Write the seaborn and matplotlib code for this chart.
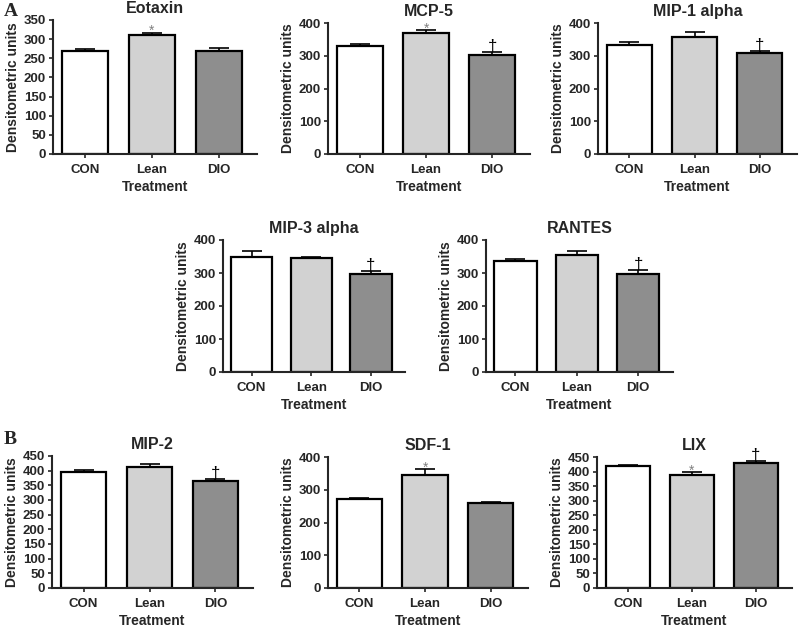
import pandas as pd
import seaborn as sns
import matplotlib
matplotlib.use('Agg')
from matplotlib import pyplot as plt

# categories and per-panel values (mean, upper SEM)
groups = ['CON', 'Lean', 'DIO']
panels = ['Eotaxin', 'MCP-5', 'MIP-1 alpha', 'MIP-3 alpha', 'RANTES', 'MIP-2', 'SDF-1', 'LIX']
means = {
    'Eotaxin': [268, 310, 270],
    'MCP-5': [330, 368, 302],
    'MIP-1 alpha': [334, 356, 308],
    'MIP-3 alpha': [350, 344, 298],
    'RANTES': [335, 355, 298],
    'MIP-2': [396, 414, 366],
    'SDF-1': [271, 345, 260],
    'LIX': [418, 387, 428],
}
sems = {
    'Eotaxin': [5, 7, 8],
    'MCP-5': [6, 10, 10],
    'MIP-1 alpha': [8, 17, 8],
    'MIP-3 alpha': [17, 4, 7],
    'RANTES': [7, 13, 10],
    'MIP-2': [6, 9, 7],
    'SDF-1': [5, 18, 2],
    'LIX': [5, 10, 7],
}
# significance marks above bars
marks = {
    'Eotaxin': ['', '*', ''],
    'MCP-5': ['', '*', '\u2020'],
    'MIP-1 alpha': ['', '', '\u2020'],
    'MIP-3 alpha': ['', '', '\u2020'],
    'RANTES': ['', '', '\u2020'],
    'MIP-2': ['', '', '\u2020'],
    'SDF-1': ['', '*', ''],
    'LIX': ['', '*', '\u2020'],
}
ymax = {'Eotaxin': 350, 'MCP-5': 400, 'MIP-1 alpha': 400, 'MIP-3 alpha': 400,
        'RANTES': 400, 'MIP-2': 450, 'SDF-1': 400, 'LIX': 450}
ystep = {'Eotaxin': 50, 'MCP-5': 100, 'MIP-1 alpha': 100, 'MIP-3 alpha': 100,
         'RANTES': 100, 'MIP-2': 50, 'SDF-1': 100, 'LIX': 50}

# axes boxes in pixels: left, right, top, bottom
boxes = {
    'Eotaxin': (53, 257, 20, 154),
    'MCP-5': (328, 530, 23, 154),
    'MIP-1 alpha': (598, 797, 23, 154),
    'MIP-3 alpha': (223, 405, 240, 372),
    'RANTES': (486, 673, 240, 372),
    'MIP-2': (52, 253, 456, 588),
    'SDF-1': (328, 528, 457, 588),
    'LIX': (597, 792, 457, 588),
}

W, H = 800, 629
sns.set_style('ticks')
plt.rcParams['font.family'] = ['Liberation Sans', 'DejaVu Sans']
plt.rcParams['font.weight'] = 'bold'
fig = plt.figure(figsize=(W / 100, H / 100), dpi=100)

colors = ['#ffffff', '#d2d2d2', '#8e8e8e']

for name in panels:
    l, r, t, b = boxes[name]
    ax = fig.add_axes([l / W, 1 - b / H, (r - l) / W, (b - t) / H])
    df = pd.DataFrame({'Treatment': groups, 'value': means[name]})
    sns.barplot(data=df, x='Treatment', y='value', hue='Treatment', palette=colors,
                width=0.69, edgecolor='black', linewidth=1.6, errorbar=None,
                legend=False, ax=ax, zorder=2)
    ax.errorbar(range(3), means[name], yerr=[[0, 0, 0], sems[name]], fmt='none',
                ecolor='black', elinewidth=1.2, capsize=7, capthick=1.2, zorder=1)
    for i, m in enumerate(marks[name]):
        top = means[name][i] + sems[name][i]
        if m == '*':
            ax.annotate(m, (i, top), xytext=(0, 1), textcoords='offset points',
                        ha='center', va='center', color='#808080', fontsize=10,
                        fontweight='normal')
        elif m:
            ax.annotate(m, (i, top), xytext=(0, -1.5), textcoords='offset points',
                        ha='center', va='bottom', color='black', fontsize=12,
                        fontweight='normal')
    ax.set_ylim(0, ymax[name])
    ax.set_yticks(range(0, ymax[name] + 1, ystep[name]))
    ax.set_xlim(-0.48, 2.57)
    ax.set_title(name, fontsize=11.5, fontweight='bold', pad=5)
    ax.set_ylabel('Densitometric units', fontsize=10, fontweight='bold', labelpad=3)
    ax.set_xlabel('Treatment', fontsize=10, fontweight='bold', labelpad=3)
    ax.tick_params(axis='both', labelsize=9.5, width=1.2, length=3, pad=2)
    ax.tick_params(axis='x', pad=4)
    for lab in ax.get_xticklabels() + ax.get_yticklabels():
        lab.set_fontweight('bold')
    for s in ['left', 'bottom']:
        ax.spines[s].set_linewidth(1.5)
    sns.despine(ax=ax)

fig.text(4 / W, 1 - 11 / H, 'A', fontsize=14, fontweight='bold', family='Liberation Serif', va='center')
fig.text(4 / W, 1 - 440 / H, 'B', fontsize=14, fontweight='bold', family='Liberation Serif', va='center')

fig.savefig('out.png', dpi=100)
